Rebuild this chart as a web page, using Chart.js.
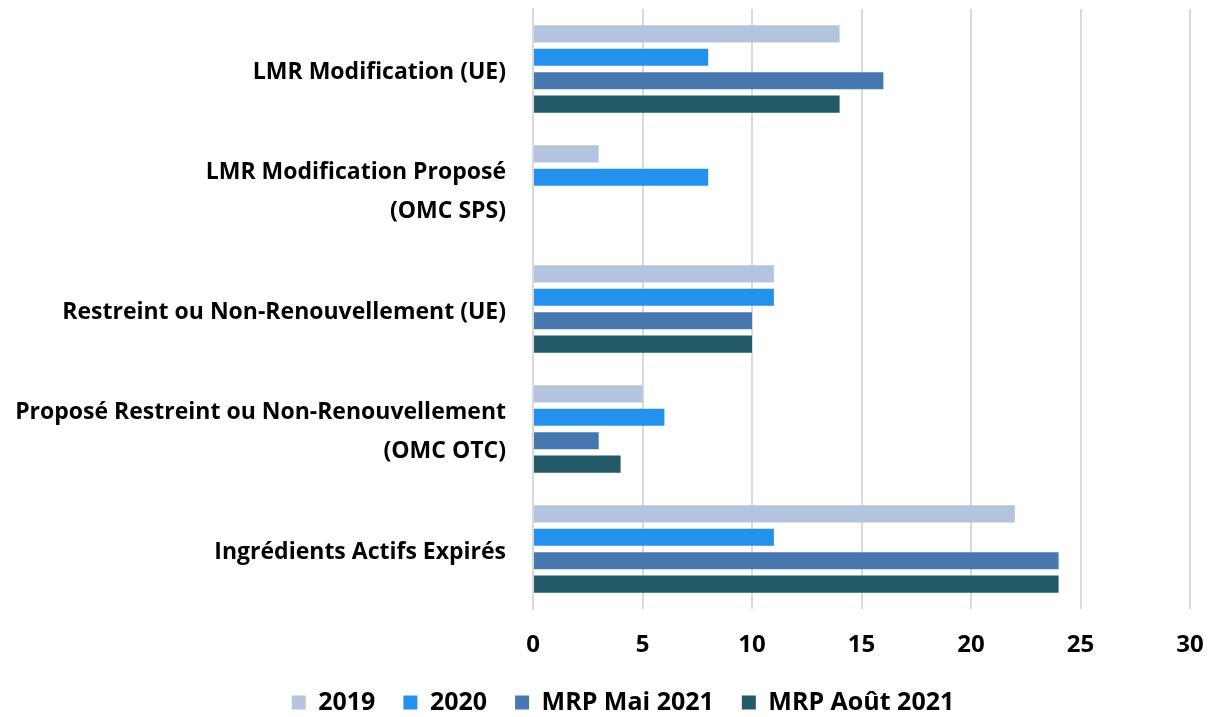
<!DOCTYPE html>
<html>
<head>
<meta charset="utf-8">
<script src="https://cdn.jsdelivr.net/npm/chart.js@4"></script>
<style>
  html, body { margin: 0; padding: 0; background: #fff; }
  #wrap { width: 1211px; height: 717px; position: relative; }
</style>
</head>
<body>
<div id="wrap"><canvas id="chart" width="1211" height="717"></canvas></div>
<script>
const categories = [
  "LMR Modification (UE)",
  ["LMR Modification Proposé", "(OMC SPS)"],
  "Restreint ou Non-Renouvellement (UE)",
  ["Proposé Restreint ou Non-Renouvellement", "(OMC OTC)"],
  "Ingrédients Actifs Expirés"
]
const seriesNames = ["2019", "2020", "MRP Mai 2021", "MRP Août 2021"]
const values2019 = [14, 3, 11, 5, 22]
const values2020 = [8, 8, 11, 6, 11]
const valuesMai2021 = [16, null, 10, 3, 24]
const valuesAout2021 = [14, null, 10, 4, 24]
const colors = ["#B4C4DF", "#2492EC", "#4878B0", "#225A68"]

const fontFamily = "'Open Sans', Lato, sans-serif"

const allValues = [values2019, values2020, valuesMai2021, valuesAout2021]

// the legend in the original sits a bit right of the canvas centre
const legendShift = {
  id: "legendShift",
  afterLayout(chart) {
    chart.legend.left += 26
    chart.legend.right += 26
  }
}

new Chart(document.getElementById("chart"), {
  type: "bar",
  data: {
    labels: categories,
    datasets: seriesNames.map((name, i) => ({
      label: name,
      data: allValues[i],
      backgroundColor: colors[i],
      borderWidth: 0,
      categoryPercentage: 0.78,
      barPercentage: 0.73
    }))
  },
  plugins: [legendShift],
  options: {
    indexAxis: "y",
    responsive: false,
    animation: false,
    layout: { padding: { top: 9, right: 21, left: 4, bottom: 0 } },
    scales: {
      x: {
        min: 0,
        max: 30,
        afterFit: function(scale) {
          scale.height = 53
          scale.paddingLeft = 0
          scale.paddingRight = 0
        },
        ticks: { stepSize: 5, color: "#000", font: { family: fontFamily, size: 24, weight: "bold" }, padding: 22 },
        grid: { color: "#D9D9D9", lineWidth: 2, drawTicks: false },
        border: { display: false }
      },
      y: {
        afterFit: function(scale) {
          scale.width = 529
          scale.paddingTop = 0
          scale.paddingBottom = 0
        },
        ticks: { color: "#000", font: { family: fontFamily, size: 23, weight: "bold", lineHeight: 1.7 }, padding: 19, labelOffset: 3 },
        grid: { display: false },
        border: { color: "#D9D9D9", width: 2 }
      }
    },
    plugins: {
      legend: {
        position: "bottom",
        maxHeight: 55,
        labels: {
          color: "#000",
          font: { family: fontFamily, size: 25, weight: "bold" },
          boxWidth: 14,
          boxHeight: 14,
          padding: 28
        }
      },
      tooltip: { enabled: false }
    }
  }
})
</script>
</body>
</html>
